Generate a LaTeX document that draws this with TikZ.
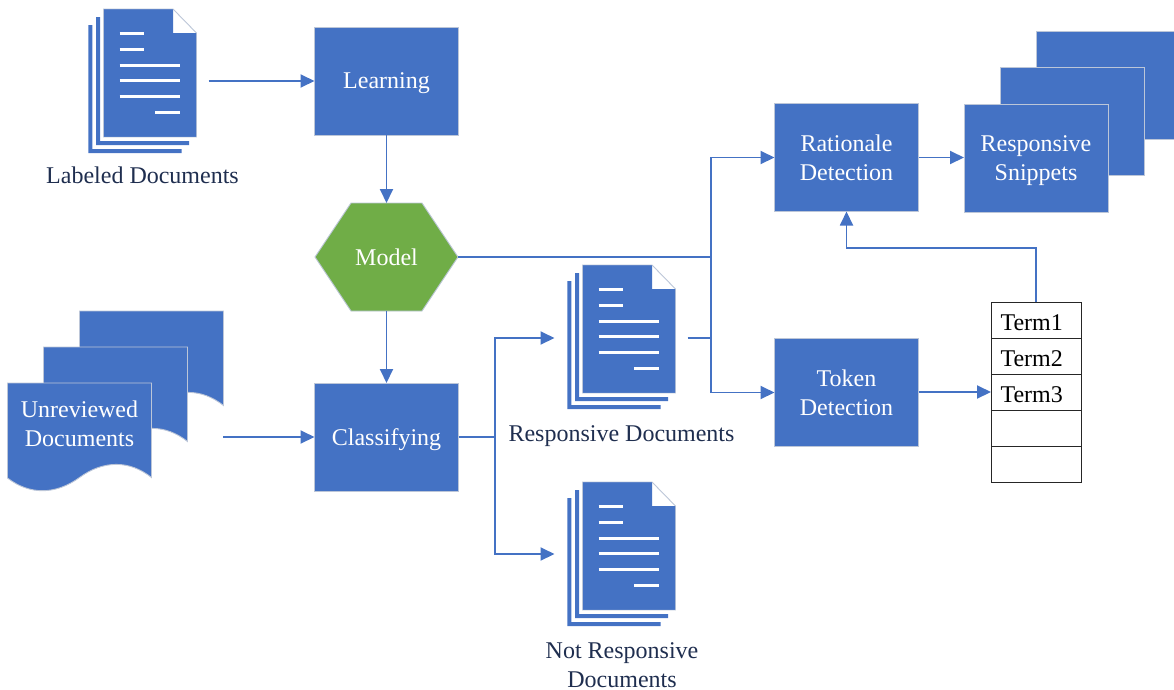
\documentclass[tikz,border=0pt]{standalone}
\usepackage{fontspec}
\setmainfont{Liberation Serif}
\usetikzlibrary{arrows.meta}
\definecolor{bl}{HTML}{4472C4}
\definecolor{gr}{HTML}{70AD47}
\definecolor{edgec}{HTML}{BCC6D8}
\definecolor{labelc}{HTML}{1F2E4F}
\tikzset{
 x=1pt,y=-1pt,
 every node/.style={font=\fontsize{24}{29}\selectfont,align=center,inner sep=0pt,outer sep=0pt},
 boxn/.style={draw=edgec,line width=0.9pt,fill=bl,text=white,text depth=0pt,minimum width=144pt,minimum height=108pt},
 backn/.style={draw=edgec,line width=0.9pt,fill=bl,minimum width=144pt,minimum height=108pt},
 hexn/.style={draw=edgec,line width=0.9pt,fill=gr},
 lab/.style={text=labelc},
 conn/.style={draw=bl,line width=1.9pt,-{Triangle[length=14pt,width=13pt]}},
 wire/.style={draw=bl,line width=1.9pt},
 sheet/.style={fill=bl},
 txtline/.style={draw=white,line width=3pt},
 cell/.style={draw=black!85,line width=0.9pt,fill=white,minimum width=90pt,minimum height=36pt},
 celltxt/.style={text=black,anchor=west},
 page/.style={fill=bl,minimum width=93pt,minimum height=128pt},
}
\newcommand{\docicon}[3]{%
 \begin{scope}[shift={(#2,#3)}]
  \fill[sheet] (88.3,25) -- (92.3,25) -- (92.3,149) -- (181.5,149) -- (181.5,153) -- (88.3,153) -- cycle;
  \fill[sheet] (96,17) -- (100,17) -- (100,141) -- (189,141) -- (189,145) -- (96,145) -- cycle;
  \node[page] (#1) at (150,73) {};
  \fill[white] (173,8.5) -- (197,8.5) -- (197,33) -- (173,33) -- cycle;
  \draw[edgec,line width=0.9pt] (103.5,137) -- (103.5,9) -- (173,9) -- (196.5,33) -- (196.5,137) -- cycle;
  \fill[bl] (173,9.5) -- (173,33) -- (196,33) -- (196,136.5) -- (104,136.5) -- (104,9.5) -- cycle;
  \draw[txtline] (119.5,33.5) -- (143.5,33.5);
  \draw[txtline] (119.5,49) -- (143.5,49);
  \draw[txtline] (119.5,65) -- (179.5,65);
  \draw[txtline] (119.5,80.5) -- (179.5,80.5);
  \draw[txtline] (119.5,96) -- (179.5,96);
  \draw[txtline] (155,112) -- (179.5,112);
 \end{scope}}
\newcommand{\wavedoc}[2]{%
 \begin{scope}[shift={(#1,#2)}]
 \path[draw=edgec,line width=0.9pt,fill=bl] (0,0) -- (144,0) -- (144,94.5)
   .. controls (122,77) and (96,77) .. (72,94.5)
   .. controls (48,112) and (22,112) .. (0,95) -- cycle;
 \end{scope}}
\begin{document}
\begin{tikzpicture}
\useasboundingbox (0,0) rectangle (1174,689);
% documents
\docicon{labeled}{0}{0}
\docicon{respdoc}{479}{256}
\docicon{notresp}{479}{473}
\node[lab] (labeledt) at (142.5,175) {Labeled Documents};
\node[lab,text depth=0pt] (respt) at (621.5,434) {Responsive Documents};
\node[lab] (notrespt) at (622,665) {Not Responsive\\Documents};
% process boxes
\node[boxn] (learning) at (386.5,81) {Learning};
\node[boxn] (classify) at (386.5,437) {Classifying};
\node[boxn] (rationale) at (846.5,157.5) {Rationale\\Detection};
\node[boxn] (token) at (846.5,392.5) {Token\\Detection};
\draw[hexn] (315,257) -- (351,203) -- (422,203) -- (458,257) -- (422,311) -- (351,311) -- cycle;
\node[minimum width=143pt,minimum height=108pt,text=white] (model) at (386.5,257) {Model};
% unreviewed stack
\wavedoc{79.5}{311}
\wavedoc{43.5}{347}
\wavedoc{7.5}{383}
\node[text=white] (unrev) at (79.5,424) {Unreviewed\\Documents};
\coordinate (unrevout) at (223,437);
% snippets stack
\node[backn,anchor=north west] (snip3) at (1036,31) {};
\node[backn] (snip2) at (1072,121.5) {};
\node[boxn] (snip1) at (1036,158) {Responsive\\Snippets};
% term table
\node[cell] (t1) at (1036,320) {};
\node[cell] (t2) at (1036,356) {};
\node[cell] (t3) at (1036,392) {};
\node[cell] (t4) at (1036,428) {};
\node[cell] (t5) at (1036,464) {};
\node[celltxt] (l1) at (1000.5,322.5) {Term1};
\node[celltxt] (l2) at (1000.5,358.5) {Term2};
\node[celltxt] (l3) at (1000.5,394.5) {Term3};
% connectors
\draw[conn] ([xshift=12pt]labeled.east |- learning.west) -- (learning.west);
\draw[conn] (learning.south) -- (model.north);
\draw[conn] (model.south) -- (classify.north);
\draw[conn] (unrevout) -- (classify.west);
\coordinate (split) at (495,437);
\coordinate (respin) at ([xshift=-28pt,yshift=-9pt]respdoc.west);
\coordinate (notin) at ([xshift=-28pt,yshift=-8pt]notresp.west);
\draw[wire] (classify.east) -- (split);
\draw[conn] (split) |- (respin);
\draw[conn] (split) |- (notin);
\coordinate (bus) at (711,257);
\draw[wire] (model.east) -- (bus);
\draw[conn] (bus |- token.west) -- (bus |- rationale.west) -- (rationale.west);
\draw[conn] (bus |- respin) -- (bus |- token.west) -- (token.west);
\draw[wire] ([xshift=12pt]respdoc.east |- respin) -- (bus |- respin);
\draw[conn] (rationale.east) -- (snip1.west |- rationale.east);
\draw[conn] (token.east |- t3.west) -- (t3.west);
\coordinate (fb) at (0,248);
\draw[conn] (t1.north) -- (t1.north |- fb) -- (rationale.south |- fb) -- (rationale.south);
\end{tikzpicture}
\end{document}
